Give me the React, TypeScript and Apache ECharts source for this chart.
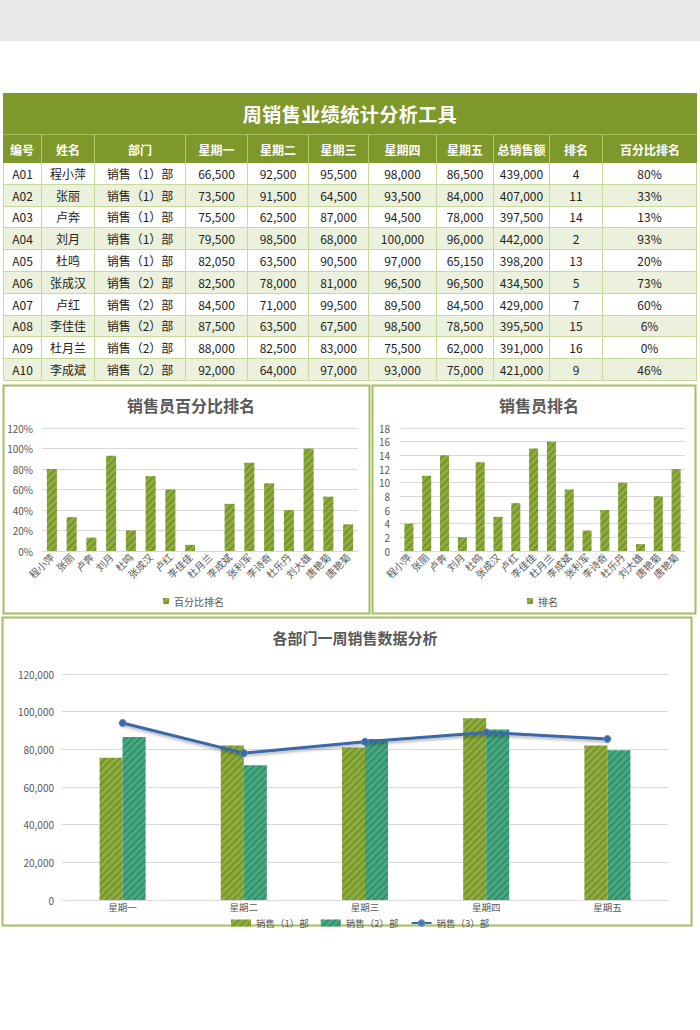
import React, { useEffect, useRef } from 'react';
import * as echarts from 'echarts';

// ---------- table data ----------
const ids = ['A01', 'A02', 'A03', 'A04', 'A05', 'A06', 'A07', 'A08', 'A09', 'A10'];
const tableNames = ['程小萍', '张丽', '卢奔', '刘月', '杜鸣', '张成汉', '卢红', '李佳佳', '杜月兰', '李成斌'];
const depts = ['销售（1）部', '销售（1）部', '销售（1）部', '销售（1）部', '销售（1）部', '销售（2）部', '销售（2）部', '销售（2）部', '销售（2）部', '销售（2）部'];
const mon = [66500, 73500, 75500, 79500, 82050, 82500, 84500, 87500, 88000, 92000];
const tue = [92500, 91500, 62500, 98500, 63500, 78000, 71000, 63500, 82500, 64000];
const wed = [95500, 64500, 87000, 68000, 90500, 81000, 99500, 67500, 83000, 97000];
const thu = [98000, 93500, 94500, 100000, 97000, 96500, 89500, 98500, 75500, 93000];
const fri = [86500, 84000, 78000, 96000, 65150, 96500, 84500, 78500, 62000, 75000];
const totals = [439000, 407000, 397500, 442000, 398200, 434500, 429000, 395500, 391000, 421000];
const ranks = [4, 11, 14, 2, 13, 5, 7, 15, 16, 9];
const pcts = ['80%', '33%', '13%', '93%', '20%', '73%', '60%', '6%', '0%', '46%'];
const headers = ['编号', '姓名', '部门', '星期一', '星期二', '星期三', '星期四', '星期五', '总销售额', '排名', '百分比排名'];
const tableTitle = '周销售业绩统计分析工具';

// ---------- chart data ----------
const chartNames = ['程小萍', '张丽', '卢奔', '刘月', '杜鸣', '张成汉', '卢红', '李佳佳', '杜月兰', '李成斌', '张利军', '李诗奇', '杜乐丹', '刘大雄', '唐艳菊', '唐艳菊'];
const pctValues = [0.8, 0.33, 0.13, 0.93, 0.2, 0.73, 0.6, 0.06, 0, 0.46, 0.86, 0.66, 0.4, 1.0, 0.53, 0.26];
const rankValues = [4, 11, 14, 2, 13, 5, 7, 15, 16, 9, 3, 6, 10, 1, 8, 12];
const weekDays = ['星期一', '星期二', '星期三', '星期四', '星期五'];
const dept1 = [75500, 82000, 81000, 96500, 82000];
const dept2 = [86500, 71500, 85500, 90500, 79500];
const dept3 = [94000, 78000, 84000, 89000, 85500];
const seriesNames = ['销售（1）部', '销售（2）部', '销售（3）部'];

const FONT = '"Noto Sans CJK SC", "Microsoft YaHei", sans-serif';
const OLIVE = '#8fad3c';
const TEAL = '#47a981';
const LINE = '#3b68a6';
const HEAD = '#7f982b';
const CELL_BORDER = '#c7da97';
const colWidths = [39, 53, 91, 62, 61, 60, 68, 57, 56, 53, 94];

const fmt = (v: number) => v.toLocaleString('en-US');

const decal = (c: string) => ({
  symbol: 'rect',
  symbolSize: 1,
  dashArrayX: [1, 0],
  dashArrayY: [1.5, 2.5],
  rotation: -Math.PI / 4,
  color: c,
});

function Table() {
  const rows = ids.map((id, i) => [
    id, tableNames[i], depts[i], fmt(mon[i]), fmt(tue[i]), fmt(wed[i]), fmt(thu[i]), fmt(fri[i]), fmt(totals[i]), String(ranks[i]), pcts[i],
  ]);
  return (
    <div style={{ position: 'absolute', left: 3, top: 93, width: 694, fontFamily: FONT, zIndex: 2 }}>
      <div style={{ height: 42, background: HEAD, color: '#fff', fontSize: 19, fontWeight: 'bold', display: 'flex', alignItems: 'center', justifyContent: 'center', borderBottom: '1px solid #a9bf5c', boxSizing: 'border-box', letterSpacing: 0.5 }}>
        {tableTitle}
      </div>
      <div style={{ display: 'flex', height: 28, background: HEAD }}>
        {headers.map((h, j) => (
          <div key={j} style={{ width: colWidths[j], boxSizing: 'border-box', borderRight: j < headers.length - 1 ? '1px solid #b3c96a' : 'none', color: '#fff', fontSize: 12, fontWeight: 'bold', display: 'flex', alignItems: 'center', justifyContent: 'center' }}>{h}</div>
        ))}
      </div>
      {rows.map((r, i) => (
        <div key={i} style={{ display: 'flex', height: 21.8, background: i % 2 ? '#ebf1dc' : '#ffffff' }}>
          {r.map((c, j) => (
            <div key={j} style={{ width: colWidths[j], boxSizing: 'border-box', borderRight: `1px solid ${CELL_BORDER}`, borderLeft: j === 0 ? `1px solid ${CELL_BORDER}` : 'none', borderBottom: `1px solid ${CELL_BORDER}`, color: '#222', fontSize: 12, display: 'flex', alignItems: 'center', justifyContent: 'center' }}>{c}</div>
          ))}
        </div>
      ))}
    </div>
  );
}

export default function App() {
  const ref = useRef<HTMLDivElement>(null);
  useEffect(() => {
    if (!ref.current) return;
    const chart = echarts.init(ref.current, undefined, { renderer: 'svg' });
    const axisLabel = { color: '#595959', fontSize: 10, fontFamily: FONT };
    const splitLine = { show: true, lineStyle: { color: '#d9d9d9', width: 1 } };
    const catAxisLine = { show: true, lineStyle: { color: '#d9d9d9' } };
    chart.setOption({
      animation: false,
      textStyle: { fontFamily: FONT },
      title: [
        { text: '销售员百分比排名', left: 186, top: 392, textAlign: 'center', textStyle: { fontSize: 16, fontWeight: 'bold', color: '#595959' } },
        { text: '销售员排名', left: 534, top: 392, textAlign: 'center', textStyle: { fontSize: 16, fontWeight: 'bold', color: '#595959' } },
        { text: '各部门一周销售数据分析', left: 350, top: 625, textAlign: 'center', textStyle: { fontSize: 15, fontWeight: 'bold', color: '#595959' } },
      ],
      legend: [
        { data: [{ name: '百分比排名', icon: 'rect' }], left: 158, top: 591, itemWidth: 6, itemHeight: 6, itemGap: 4, textStyle: { color: '#595959', fontSize: 10 } },
        { data: [{ name: '排名', icon: 'rect' }], left: 522, top: 591, itemWidth: 6, itemHeight: 6, textStyle: { color: '#595959', fontSize: 10 } },
        {
          data: [{ name: seriesNames[0], icon: 'rect' }, { name: seriesNames[1], icon: 'rect' }, { name: seriesNames[2] }],
          left: 226, top: 913, itemWidth: 20, itemHeight: 7, itemGap: 12, textStyle: { color: '#595959', fontSize: 9.5, lineHeight: 10 },
        },
      ],
      grid: [
        { left: 42, top: 428, width: 316, height: 123 },
        { left: 400, top: 428, width: 285, height: 123 },
        { left: 62, top: 674, width: 606, height: 226 },
      ],
      xAxis: [
        { type: 'category', gridIndex: 0, data: chartNames, axisLine: catAxisLine, axisTick: { show: false }, axisLabel: { ...axisLabel, rotate: 45, interval: 0, margin: 4 } },
        { type: 'category', gridIndex: 1, data: chartNames, axisLine: catAxisLine, axisTick: { show: false }, axisLabel: { ...axisLabel, rotate: 45, interval: 0, margin: 4 } },
        { type: 'category', gridIndex: 2, data: weekDays, axisLine: catAxisLine, axisTick: { show: false }, axisLabel: { ...axisLabel, fontSize: 9.5, lineHeight: 10, margin: 2 } },
      ],
      yAxis: [
        { type: 'value', gridIndex: 0, min: 0, max: 1.2, interval: 0.2, axisLabel: { ...axisLabel, formatter: (v: number) => Math.round(v * 100) + '%', margin: 9 }, splitLine, axisLine: { show: false }, axisTick: { show: false } },
        { type: 'value', gridIndex: 1, min: 0, max: 18, interval: 2, axisLabel: { ...axisLabel, margin: 10 }, splitLine, axisLine: { show: false }, axisTick: { show: false } },
        { type: 'value', gridIndex: 2, min: 0, max: 120000, interval: 20000, axisLabel: { ...axisLabel, formatter: (v: number) => fmt(v), margin: 8 }, splitLine, axisLine: { show: false }, axisTick: { show: false } },
      ],
      series: [
        { name: '百分比排名', type: 'bar', xAxisIndex: 0, yAxisIndex: 0, data: pctValues, barWidth: 10, itemStyle: { color: OLIVE, decal: decal('rgba(70,95,20,0.35)') } },
        { name: '排名', type: 'bar', xAxisIndex: 1, yAxisIndex: 1, data: rankValues, barWidth: 9, itemStyle: { color: OLIVE, decal: decal('rgba(70,95,20,0.35)') } },
        { name: seriesNames[0], type: 'bar', xAxisIndex: 2, yAxisIndex: 2, data: dept1, barWidth: 23, barGap: '0%', itemStyle: { color: OLIVE, decal: decal('rgba(70,95,20,0.35)') } },
        { name: seriesNames[1], type: 'bar', xAxisIndex: 2, yAxisIndex: 2, data: dept2, barWidth: 23, barGap: '0%', itemStyle: { color: TEAL, decal: decal('rgba(20,90,60,0.35)') } },
        {
          name: seriesNames[2], type: 'line', xAxisIndex: 2, yAxisIndex: 2, data: dept3, symbol: 'circle', symbolSize: 7,
          lineStyle: { color: LINE, width: 3, shadowColor: 'rgba(0,0,0,0.3)', shadowBlur: 3, shadowOffsetY: 2 },
          itemStyle: { color: LINE, borderColor: '#5b86c0', borderWidth: 1 },
        },
      ],
      graphic: [
        { type: 'rect', shape: { x: 3.5, y: 385.5, width: 366, height: 228 }, style: { fill: 'none', stroke: '#a3bf5e', lineWidth: 2 }, silent: true },
        { type: 'rect', shape: { x: 372.5, y: 385.5, width: 323, height: 228 }, style: { fill: 'none', stroke: '#a3bf5e', lineWidth: 2 }, silent: true },
        { type: 'rect', shape: { x: 2.5, y: 617.5, width: 689, height: 308 }, style: { fill: 'none', stroke: '#a3bf5e', lineWidth: 2 }, silent: true },
      ],
    });
    return () => chart.dispose();
  }, []);

  return (
    <div style={{ position: 'absolute', left: 0, top: 0, width: 700, height: 1030, background: '#fff', overflow: 'hidden' }}>
      <div style={{ position: 'absolute', left: 0, top: 0, width: 700, height: 41, background: '#e9e9e9' }} />
      <Table />
      <div ref={ref} style={{ position: 'absolute', left: 0, top: 0, width: 700, height: 1030, zIndex: 1 }} />
    </div>
  );
}
